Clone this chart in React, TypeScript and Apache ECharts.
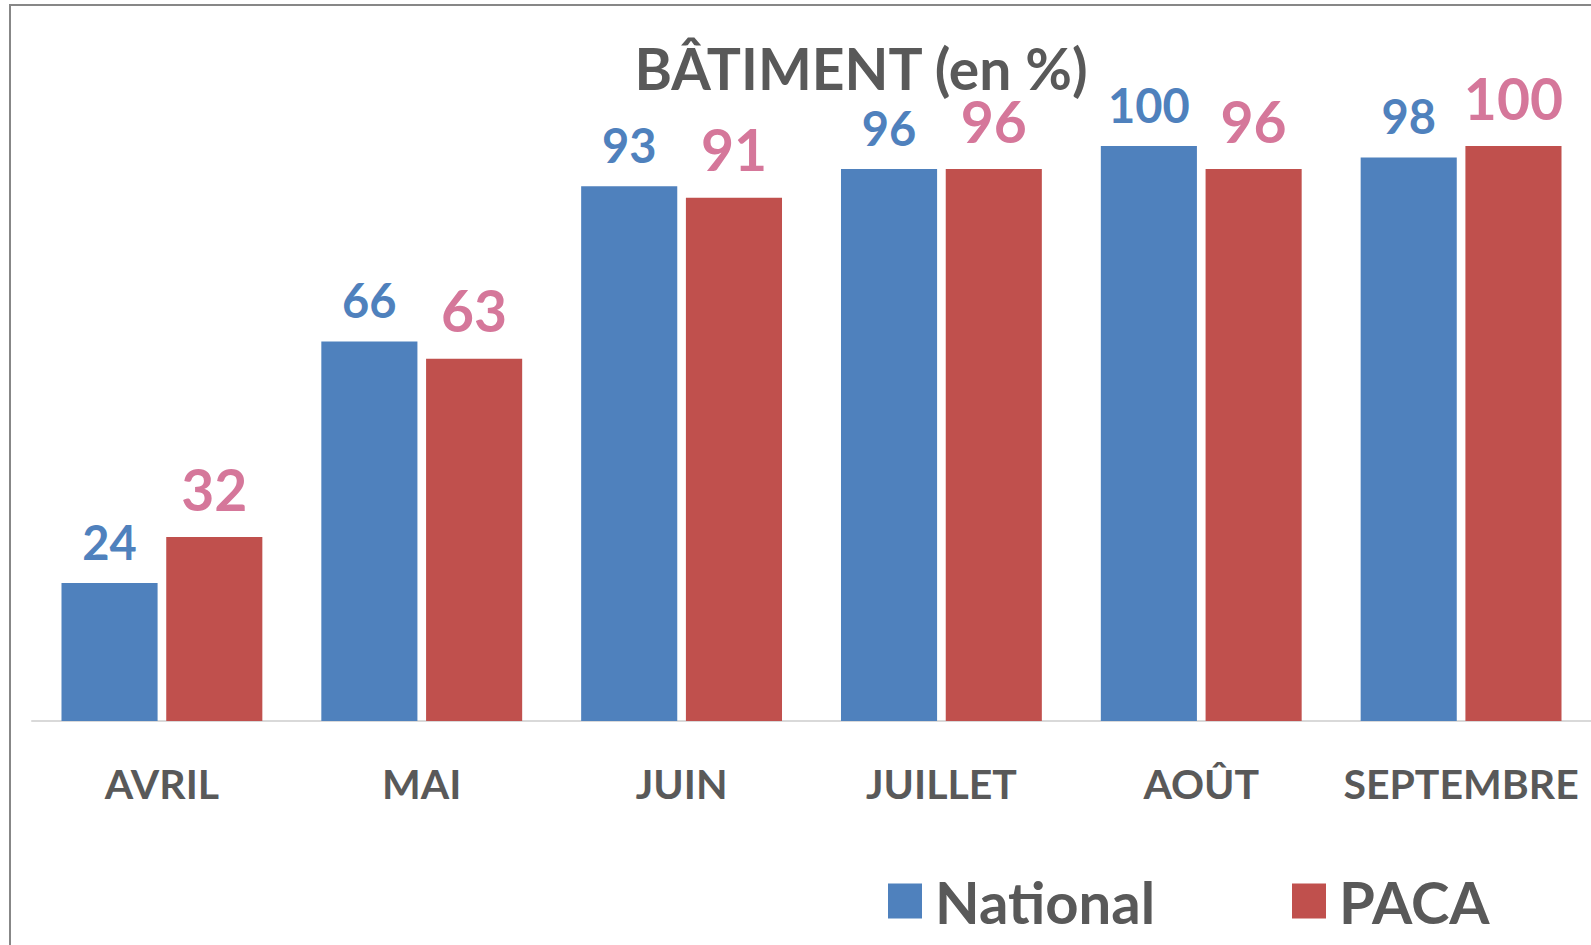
import React, { useEffect, useRef } from "react";
import * as echarts from "echarts";

const categories = ["AVRIL", "MAI", "JUIN", "JUILLET", "AOÛT", "SEPTEMBRE"];
const nationalValues = [24, 66, 93, 96, 100, 98];
const pacaValues = [32, 63, 91, 96, 96, 100];
const seriesNames = ["National", "PACA"];
const titleText = "BÂTIMENT (en %)";

const FONT = "Lato";
const GREY = "#595959";

export default function App() {
  const ref = useRef<HTMLDivElement>(null);
  useEffect(() => {
    if (!ref.current) return;
    const chart = echarts.init(ref.current, undefined, { renderer: "svg" });
    const legendText = {
      color: GREY,
      fontFamily: FONT,
      fontWeight: "bold",
      fontSize: 58,
      padding: [0, 0, 8, 8],
    };
    chart.setOption({
      animation: false,
      backgroundColor: "#ffffff",
      graphic: [
        {
          type: "rect",
          silent: true,
          z: -1,
          shape: { x: 10, y: 5, width: 1700, height: 1100 },
          style: { fill: "none", stroke: "#878787", lineWidth: 2 },
        },
        {
          type: "text",
          x: 861,
          y: 67.5,
          style: {
            text: titleText,
            fill: GREY,
            font: `bold 57px ${FONT}`,
            textAlign: "center",
            textVerticalAlign: "middle",
          },
        },
      ],
      legend: [
        {
          data: [seriesNames[0]],
          left: 883,
          top: 867,
          itemWidth: 34,
          itemHeight: 35,
          icon: "rect",
          textStyle: legendText,
        },
        {
          data: [seriesNames[1]],
          left: 1287,
          top: 867,
          itemWidth: 34,
          itemHeight: 35,
          icon: "rect",
          textStyle: legendText,
        },
      ],
      grid: { left: 32, width: 1560, top: 146, bottom: 224, containLabel: false },
      xAxis: {
        type: "category",
        data: categories,
        axisLine: { lineStyle: { color: "#D9D9D9", width: 2 } },
        axisTick: { show: false },
        axisLabel: {
          color: GREY,
          fontFamily: FONT,
          fontWeight: "bold",
          fontSize: 41,
          margin: 42,
          interval: 0,
        },
      },
      yAxis: {
        type: "value",
        min: 0,
        max: 100,
        show: false,
        splitLine: { show: false },
      },
      series: [
        {
          name: seriesNames[0],
          type: "bar",
          data: nationalValues,
          barGap: "9%",
          barCategoryGap: "22.7%",
          itemStyle: { color: "#4F81BD" },
          label: {
            show: true,
            position: "top",
            distance: 18,
            color: "#4F81BD",
            fontFamily: FONT,
            fontWeight: "bold",
            fontSize: 47,
          },
        },
        {
          name: seriesNames[1],
          type: "bar",
          data: pacaValues,
          barGap: "9%",
          barCategoryGap: "22.7%",
          itemStyle: { color: "#C0504D" },
          label: {
            show: true,
            position: "top",
            distance: 20,
            color: "#D5779A",
            fontFamily: FONT,
            fontWeight: "bold",
            fontSize: 57,
          },
        },
      ],
    });
    return () => chart.dispose();
  }, []);
  return (
    <div
      ref={ref}
      style={{ position: "fixed", left: 0, top: 0, width: 1591, height: 945 }}
    />
  );
}
